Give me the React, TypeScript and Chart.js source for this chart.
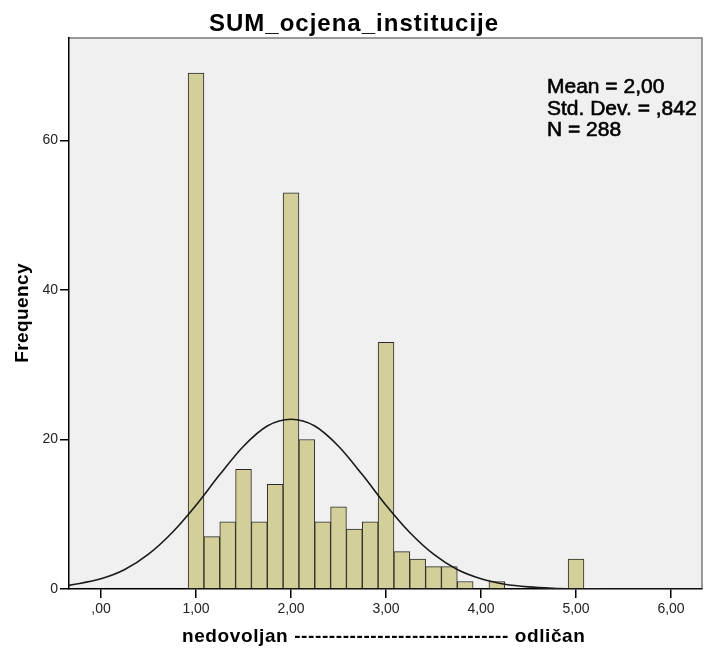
import React, { useEffect, useRef } from 'react';
import { Chart, registerables } from 'chart.js';

Chart.register(...registerables);

// ---- data ----
const binCenters = [1, 1.1667, 1.3333, 1.5, 1.6667, 1.8333, 2, 2.1667, 2.3333, 2.5, 2.6667, 2.8333, 3, 3.1667, 3.3333, 3.5, 3.6667, 3.8333, 4, 4.1667, 5];
const binCounts = [69, 7, 9, 16, 9, 14, 53, 20, 9, 11, 8, 9, 33, 5, 4, 3, 3, 1, 0, 1, 4];

const curveX = [-0.337, 0, 0.25, 0.5, 0.75, 1, 1.25, 1.5, 1.75, 2, 2.25, 2.5, 2.75, 3, 3.25, 3.5, 3.75, 4, 4.25, 4.5, 4.75, 5, 5.5, 6, 6.326];
const curveY = [0.48, 1.36, 2.6, 4.65, 7.55, 11.2, 15.3, 19.1, 21.8, 22.7, 21.8, 19.1, 15.3, 11.2, 7.55, 4.65, 2.6, 1.36, 0.64, 0.28, 0.11, 0.04, 0, 0, 0];

const xTicks = [0, 1, 2, 3, 4, 5, 6];
const yTicks = [0, 20, 40, 60];
const xMin = -0.337;
const xMax = 6.326;
const yMax = 73.7;

const titleText = 'SUM_ocjena_institucije';
const statsLines = ['Mean = 2,00', 'Std. Dev. = ,842', 'N = 288'];
const xTitle = 'nedovoljan ------------------------------- odličan';
const yTitle = 'Frequency';

const FONT = '"Liberation Sans", Arial, sans-serif';

const fmtX = (v: number) => (v === 0 ? ',00' : v.toFixed(2).replace('.', ','));

const decorPlugin = {
  id: 'decor',
  beforeDraw(chart: any) {
    const { ctx, chartArea } = chart;
    ctx.save();
    ctx.fillStyle = '#ffffff';
    ctx.fillRect(0, 0, chart.width, chart.height);
    ctx.fillStyle = '#f0f0f0';
    ctx.fillRect(chartArea.left, chartArea.top, chartArea.right - chartArea.left, chartArea.bottom - chartArea.top);
    ctx.strokeStyle = '#7a7a7a';
    ctx.lineWidth = 1.5;
    ctx.beginPath();
    ctx.moveTo(chartArea.left, chartArea.top);
    ctx.lineTo(chartArea.right, chartArea.top);
    ctx.lineTo(chartArea.right, chartArea.bottom);
    ctx.stroke();
    ctx.restore();
  },
  afterDraw(chart: any) {
    const { ctx } = chart;
    ctx.save();
    ctx.fillStyle = '#000000';
    ctx.strokeStyle = '#000000';
    // title
    ctx.font = `bold 24px ${FONT}`;
    (ctx as any).letterSpacing = '1px';
    ctx.textAlign = 'left';
    ctx.textBaseline = 'alphabetic';
    ctx.fillText(titleText, 209, 31);
    // stats
    ctx.font = `21px ${FONT}`;
    (ctx as any).letterSpacing = '0px';
    ctx.lineWidth = 0.6;
    statsLines.forEach((s, i) => {
      ctx.fillText(s, 547, 93 + i * 21.5);
      ctx.strokeText(s, 547, 93 + i * 21.5);
    });
    // x title
    ctx.font = `bold 19px ${FONT}`;
    (ctx as any).letterSpacing = '0.6px';
    ctx.fillText(xTitle, 182, 642);
    // y title
    (ctx as any).letterSpacing = '0.4px';
    ctx.translate(28, 313);
    ctx.rotate(-Math.PI / 2);
    ctx.textAlign = 'center';
    ctx.fillText(yTitle, 0, 0);
    ctx.restore();
  },
};

export default function App() {
  const ref = useRef<HTMLCanvasElement>(null);
  useEffect(() => {
    if (!ref.current) return;
    const chart = new Chart(ref.current, {
      type: 'bar',
      data: {
        datasets: [
          {
            type: 'line',
            data: curveX.map((x, i) => ({ x, y: curveY[i] })),
            borderColor: '#1a1a1a',
            borderWidth: 1.6,
            pointRadius: 0,
            cubicInterpolationMode: 'monotone',
            fill: false,
            order: 0,
          } as any,
          {
            type: 'bar',
            data: binCenters.map((x, i) => ({ x, y: binCounts[i] })),
            backgroundColor: '#d3cf98',
            borderColor: '#2a2a2a',
            borderWidth: 1,
            borderSkipped: 'start',
            barPercentage: 1,
            categoryPercentage: 1,
            order: 1,
          } as any,
        ],
      },
      options: {
        responsive: false,
        animation: false,
        devicePixelRatio: 1,
        layout: { padding: { left: 0, top: 38, right: 2, bottom: 0 } },
        plugins: { legend: { display: false }, tooltip: { enabled: false }, title: { display: false } },
        scales: {
          x: {
            type: 'linear',
            min: xMin,
            max: xMax,
            offset: false,
            afterFit: (s: any) => { s.height = 61; },
            afterBuildTicks: (s: any) => { s.ticks = xTicks.map((v) => ({ value: v })); },
            ticks: {
              callback: (v: any) => fmtX(Number(v)),
              font: { family: FONT, size: 14 },
              color: '#222222',
              padding: 3,
              maxRotation: 0,
              autoSkip: false,
            },
            grid: { offset: false, drawOnChartArea: false, drawTicks: true, tickLength: 9, color: '#000000', lineWidth: 1.5 },
            border: { display: true, color: '#000000', width: 1.5 },
          },
          y: {
            type: 'linear',
            min: 0,
            max: yMax,
            afterFit: (s: any) => { s.width = 69; },
            afterBuildTicks: (s: any) => { s.ticks = yTicks.map((v) => ({ value: v })); },
            ticks: {
              font: { family: FONT, size: 14 },
              color: '#222222',
              padding: 2,
              autoSkip: false,
            },
            grid: { offset: false, drawOnChartArea: false, drawTicks: true, tickLength: 9, color: '#000000', lineWidth: 1.5 },
            border: { display: true, color: '#000000', width: 1.5 },
          },
        },
      },
      plugins: [decorPlugin],
    });
    return () => chart.destroy();
  }, []);
  return (
    <div style={{ position: 'absolute', left: 0, top: 0, width: 704, height: 650 }}>
      <canvas ref={ref} width={704} height={650} />
    </div>
  );
}
